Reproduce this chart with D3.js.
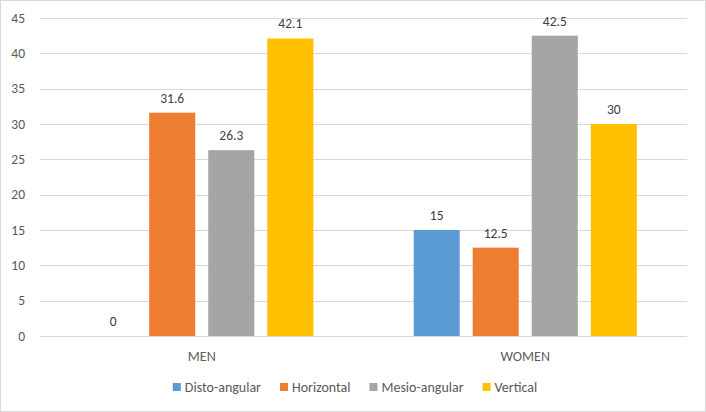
<!DOCTYPE html>
<html>
<head>
<meta charset="utf-8">
<script src="https://cdn.jsdelivr.net/npm/d3@7"></script>
<style>
  body { margin: 0; background: #fff; }
  svg text { font-family: Calibri, Carlito, Lato, sans-serif; }
</style>
</head>
<body>
<svg id="chart"></svg>
<script>
const groups = ['MEN', 'WOMEN'];
const series = ['Disto-angular', 'Horizontal', 'Mesio-angular', 'Vertical'];
const menValues = [0, 31.6, 26.3, 42.1];
const womenValues = [15, 12.5, 42.5, 30];
const yTicks = [0, 5, 10, 15, 20, 25, 30, 35, 40, 45];
const colors = ['#5B9BD5', '#ED7D31', '#A5A5A5', '#FFC000'];

const width = 706, height = 412;
const margin = {top: 18, right: 19, bottom: 76, left: 40};

const svg = d3.select('#chart')
    .attr('width', width)
    .attr('height', height);

// chart border
svg.append('rect')
    .attr('x', 0.5).attr('y', 0.5)
    .attr('width', width - 1).attr('height', height - 1)
    .attr('fill', '#fff')
    .attr('stroke', '#d9d9d9');

const x0 = d3.scaleBand()
    .domain(groups)
    .range([margin.left, width - margin.right]);

const x1 = d3.scaleBand()
    .domain(series)
    .range([x0.bandwidth() * 0.155, x0.bandwidth() * 0.845])
    .paddingInner(0.22);

const y = d3.scaleLinear()
    .domain([0, 45])
    .range([height - margin.bottom, margin.top]);

// gridlines
svg.append('g')
    .selectAll('line')
    .data(yTicks)
  .join('line')
    .attr('x1', margin.left)
    .attr('x2', width - margin.right)
    .attr('y1', d => Math.round(y(d)) + 0.5)
    .attr('y2', d => Math.round(y(d)) + 0.5)
    .attr('stroke', '#d9d9d9')
    .attr('stroke-width', 1);

// y tick labels
svg.append('g')
    .selectAll('text')
    .data(yTicks)
  .join('text')
    .attr('x', 25)
    .attr('y', d => y(d))
    .attr('dy', '0.35em')
    .attr('text-anchor', 'end')
    .attr('fill', '#595959')
    .style('font-size', '13.5px')
    .text(d => d);

const rows = groups.map((g, i) => ({
  group: g,
  values: (i === 0 ? menValues : womenValues).map((v, j) => ({key: series[j], value: v, color: colors[j]}))
}));

const gs = svg.append('g')
    .selectAll('g')
    .data(rows)
  .join('g')
    .attr('transform', d => `translate(${x0(d.group)},0)`);

gs.selectAll('rect')
    .data(d => d.values)
  .join('rect')
    .attr('x', d => x1(d.key))
    .attr('width', x1.bandwidth())
    .attr('y', d => y(d.value))
    .attr('height', d => y(0) - y(d.value))
    .attr('fill', d => d.color);

gs.selectAll('text.val')
    .data(d => d.values)
  .join('text')
    .attr('class', 'val')
    .attr('x', d => x1(d.key) + x1.bandwidth() / 2)
    .attr('y', d => y(d.value) - 10)
    .attr('text-anchor', 'middle')
    .attr('fill', '#404040')
    .style('font-size', '13.5px')
    .text(d => d.value);

// category labels
svg.append('g')
    .selectAll('text')
    .data(groups)
  .join('text')
    .attr('x', d => x0(d) + x0.bandwidth() / 2)
    .attr('y', height - margin.bottom + 20)
    .attr('dy', '0.35em')
    .attr('text-anchor', 'middle')
    .attr('fill', '#595959')
    .style('font-size', '14px')
    .text(d => d);

// legend
const legend = svg.append('g');
const items = legend.selectAll('g')
    .data(series)
  .join('g');
items.append('rect')
    .attr('width', 8).attr('height', 8)
    .attr('y', 383)
    .attr('fill', (d, i) => colors[i]);
items.append('text')
    .attr('x', 12)
    .attr('y', 387)
    .attr('dy', '0.35em')
    .attr('fill', '#595959')
    .style('font-size', '14px')
    .text(d => d);

let offset = 0;
items.each(function() {
  const g = d3.select(this);
  g.attr('transform', `translate(${offset},0)`);
  offset += 12 + g.select('text').node().getComputedTextLength() + 19;
});
const legendWidth = offset - 19;
legend.attr('transform', `translate(${355 - legendWidth / 2},0)`);
</script>
</body>
</html>
